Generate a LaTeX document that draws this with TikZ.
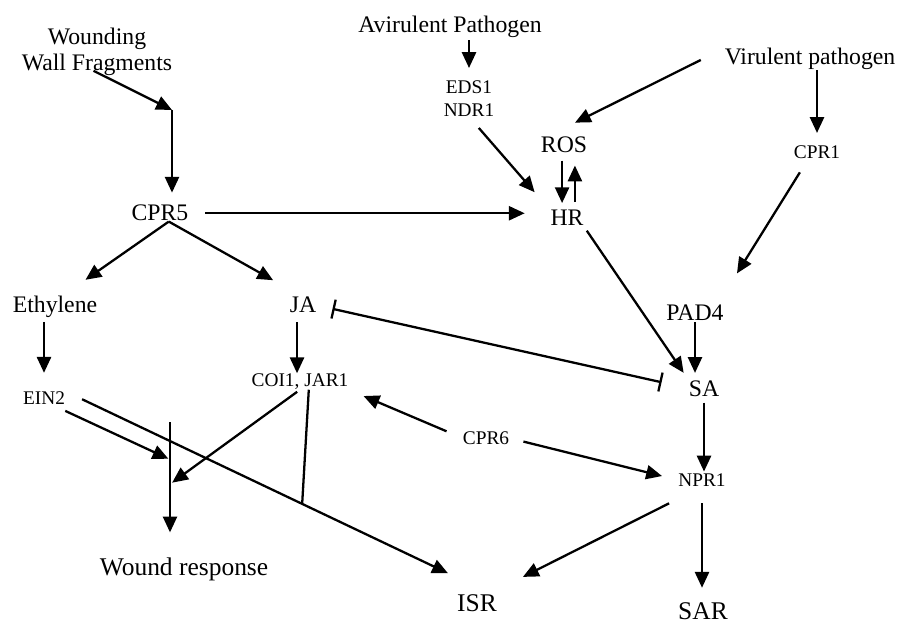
\documentclass[tikz,border=0pt]{standalone}
\usepackage{fontspec}
\setmainfont{Liberation Serif}
\usetikzlibrary{arrows.meta,calc}

\begin{document}
\begin{tikzpicture}[x=0.02cm,y=-0.02cm,
        every node/.style={inner sep=0pt},
        lbl/.style={font=\fontsize{13.5}{14.7}\selectfont},
        sml/.style={font=\fontsize{11}{13}\selectfont},
        big/.style={font=\fontsize{14.5}{16}\selectfont},
        arr/.style={line width=1.3pt,-{Triangle[length=9pt,width=8pt]}},
        blk/.style={line width=1.3pt,{Bar[width=11pt]}-{Bar[width=11pt]}},
        ln/.style={line width=1.3pt}]
        \path[use as bounding box,fill=white](0,0)rectangle(901,624);
        % signals
        \node[lbl,align=center](wall)at(97,52){Wounding\\Wall Fragments};
        \node[lbl,anchor=base](avr)at(450,33){Avirulent Pathogen};
        \node[lbl,anchor=base](vir)at(810,65){Virulent pathogen};
        % genes
        \node[sml,align=center](eds)at(469,98.5){EDS1\\NDR1};
        \node[lbl,anchor=base](ros)at(564,153){ROS};
        \node[lbl,anchor=base](hr)at(567,226){HR};
        \node[sml,anchor=base](cpr1)at(817,158.4){CPR1};
        \node[lbl,anchor=base](cpr5)at(160,221){CPR5};
        \node[lbl,anchor=base](eth)at(55,313){Ethylene};
        \node[lbl,anchor=base](ja)at(303,313){JA};
        \node[lbl,anchor=base](pad4)at(695,320){PAD4};
        \node[lbl,anchor=base](sa)at(704,396){SA};
        \node[sml,anchor=base](ein2)at(44,404.4){EIN2};
        \node[sml,anchor=base](coi)at(300,386.4){COI1, JAR1};
        \node[sml,anchor=base](cpr6)at(486,444.4){CPR6};
        \node[sml,anchor=base](npr1)at(702,486.4){NPR1};
        % responses
        \node[big,anchor=base](wound)at(184,575){Wound response};
        \node[big,anchor=base](isr)at(477,611.5){ISR};
        \node[big,anchor=base](sar)at(703,619){SAR};
        % wounding
        \coordinate(c1)at(172,110);
        \path[draw,arr]([shift={(-2pt,3pt)}]wall.south)to(c1);
        \path[draw,arr,shorten >=7pt](c1)to(c1 |- cpr5.north);
        % pathogens
        \path[draw,arr,shorten <=1pt,shorten >=7pt](eds.north |- avr.south)to(eds.north);
        \path[draw,arr,shorten <=8.5pt,shorten >=13.5pt](eds.south)to(hr.north west);
        \path[draw,arr,shorten <=4pt,shorten >=4pt]([xshift=-2.8pt]hr.north |- ros.south)to([xshift=-2.8pt]hr.north);
        \path[draw,arr,shorten <=4.5pt,shorten >=6.8pt]([xshift=4.5pt]hr.north)to([xshift=4.5pt]hr.north |- ros.south);
        \path[draw,arr,shorten <=9.4pt,shorten >=14.5pt](cpr5.east)to(cpr5.east -| hr.west);
        \path[draw,arr,shorten <=15pt,shorten >=7pt](vir.north west)to([yshift=5pt]ros.north);
        \path[draw,arr,shorten >=7pt](cpr1.north |- vir.south)to(cpr1.north);
        \path[draw,arr,shorten <=9pt,shorten >=20.5pt]([xshift=-5pt]cpr1.south)to([xshift=-3.4pt]pad4.north east);
        % SA
        \path[draw,arr,shorten <=3pt,shorten >=4.9pt](hr.south east)to(sa.north west);
        \path[draw,arr,shorten <=1pt,shorten >=4pt](pad4.south)to(pad4.south |- sa.north);
        \path[draw,blk,shorten <=9.3pt,shorten >=15.7pt](ja.east)to(sa.west);
        \path[draw,arr,shorten <=3.4pt,shorten >=1pt](sa.south)to(sa.south |- npr1.north);
        \path[draw,arr,shorten <=9.4pt,shorten >=8pt](npr1.south)to(npr1.south |- sar.north);
        \path[draw,arr,shorten <=21pt,shorten >=22pt](npr1.south)to([xshift=-5pt]isr.north east);
        \path[draw,arr,shorten <=9.9pt,shorten >=9.2pt](cpr6.west)to(coi.south east);
        \path[draw,arr,shorten <=8.2pt,shorten >=9.4pt](cpr6.east)to(npr1.west);
        % CPR5
        \path[draw,arr,shorten >=16.3pt]([xshift=5pt]cpr5.south)to([xshift=4pt]eth.north);
        \path[draw,arr,shorten >=19.5pt]([xshift=5pt]cpr5.south)to(ja.north);
        \path[draw,arr,shorten <=2pt,shorten >=10.5pt](ein2.north |- eth.south)to(ein2.north);
        \path[draw,arr,shorten <=5pt]([xshift=-3.4pt]ja.south)to([xshift=-3.4pt]ja.south |- coi.north);
        % wound response
        \coordinate(wtop)at(170,422);
        \path[draw,arr,shorten >=14pt](wtop)--coordinate[pos=0.278](win1)coordinate[pos=0.461](win2)(wtop |- wound.north);
        \path[draw,arr,shorten >=1pt]([yshift=-3.5pt]ein2.south east)to(win1);
        \path[draw,arr,shorten <=2pt,shorten >=1.5pt](coi.south)to(win2);
        % ISR
        \path[draw,arr,shorten <=10.6pt,shorten >=5.6pt](ein2.north east)--coordinate[pos=0.605](jn)([yshift=9.6pt]isr.north west);
        \path[draw,ln]([xshift=5pt]coi.south)to(jn);
    \end{tikzpicture}
\end{document}
